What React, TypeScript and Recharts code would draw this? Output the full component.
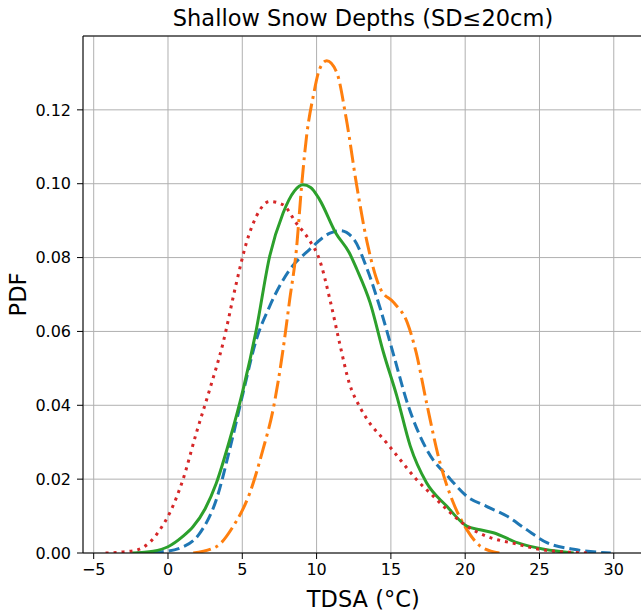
import React from "react";
import { LineChart, Line, XAxis, YAxis, CartesianGrid, ReferenceLine, Label } from "recharts";

const xTicks = [-5, 0, 5, 10, 15, 20, 25, 30];
const yTicks = [0, 0.02, 0.04, 0.06, 0.08, 0.1, 0.12];

// blue dashed
const blueX = [-2.1, -0.5, 0.79, 2.13, 3.25, 4.15, 5.05, 5.94, 6.84, 8.19, 9.5, 10.9, 11.6, 12.5, 13.4, 14.3, 15.2, 16.1, 17.4, 19.0, 20.1, 21.4, 22.8, 24.1, 25.5, 27.3, 29.8];
const blueY = [0, 0.0003, 0.0013, 0.0053, 0.0144, 0.028, 0.0433, 0.0577, 0.0668, 0.0767, 0.0821, 0.0866, 0.0873, 0.085, 0.0769, 0.066, 0.0534, 0.0407, 0.0281, 0.02, 0.0154, 0.0127, 0.01, 0.0064, 0.0028, 0.001, 0];

// orange dash-dot
const orangeX = [1.7, 3.25, 4.37, 5.5, 6.39, 7.07, 7.74, 8.19, 8.64, 9.0, 9.33, 9.78, 10.2, 10.68, 11.35, 12.0, 12.7, 13.4, 14.3, 15.2, 16.1, 16.7, 17.4, 18.3, 19.2, 20.1, 21.0, 22.3];
const orangeY = [0, 0.0017, 0.0071, 0.0162, 0.028, 0.0388, 0.055, 0.0686, 0.0821, 0.0998, 0.113, 0.1238, 0.131, 0.1333, 0.1302, 0.1175, 0.0995, 0.0841, 0.0715, 0.0678, 0.0624, 0.0543, 0.0407, 0.0245, 0.0136, 0.0064, 0.0019, 0];

// green solid
const greenX = [-2.4, -1.0, 0, 1.0, 1.68, 2.5, 3.25, 4.15, 5.05, 5.94, 6.84, 7.74, 8.5, 9.08, 9.6, 10.2, 11.3, 12.2, 12.7, 13.6, 14.5, 15.4, 16.3, 17.4, 18.75, 20.1, 21.0, 21.9, 23.5, 25.3, 27.3];
const greenY = [0, 0.0005, 0.0017, 0.0045, 0.0071, 0.012, 0.0189, 0.0306, 0.0442, 0.0604, 0.0803, 0.092, 0.098, 0.0997, 0.099, 0.0957, 0.0866, 0.0813, 0.0769, 0.0678, 0.0543, 0.0425, 0.029, 0.019, 0.0127, 0.0073, 0.0063, 0.0055, 0.0028, 0.001, 0];

// red dotted
const redX = [-4.2, -3.0, -2.1, -1.2, -0.56, 0.11, 1.0, 1.9, 2.8, 3.7, 4.6, 5.27, 5.94, 6.84, 7.74, 8.64, 9.5, 10.2, 10.9, 11.55, 12.2, 12.9, 13.4, 14.7, 15.6, 16.7, 17.85, 19.0, 20.1, 21.4, 23.5, 25.0, 27.0, 28.5];
const redY = [0, 0.0003, 0.0008, 0.003, 0.0062, 0.0108, 0.0198, 0.0324, 0.0442, 0.0568, 0.0731, 0.0839, 0.0911, 0.0952, 0.0943, 0.0893, 0.0848, 0.0794, 0.0686, 0.0568, 0.046, 0.0396, 0.0362, 0.0299, 0.0254, 0.02, 0.0154, 0.0109, 0.0073, 0.0046, 0.0024, 0.001, 0.0002, 0];

const toPoints = (xs: number[], ys: number[]) => xs.map((x, i) => ({ x, y: ys[i] }));

const series = [
  { key: "blue", data: toPoints(blueX, blueY), color: "#1f77b4", dash: "11 5" },
  { key: "orange", data: toPoints(orangeX, orangeY), color: "#ff7f0e", dash: "18 5 3 5" },
  { key: "green", data: toPoints(greenX, greenY), color: "#2ca02c", dash: undefined },
  { key: "red", data: toPoints(redX, redY), color: "#d62728", dash: "3 5" },
];

const font = "'DejaVu Sans', sans-serif";
const tickStyle = { fontSize: 16, fill: "#000", fontFamily: font };
const labelStyle = { fontSize: 22.5, fill: "#000", fontFamily: font };

// matplotlib uses a real minus sign
const fmtX = (v: number) => (v < 0 ? "\u2212" + Math.abs(v) : String(v));

export default function App() {
  return (
    <div style={{ position: "absolute", left: 0, top: 0, width: 641, height: 615, overflow: "hidden", background: "#fff" }}>
      <div
        style={{
          position: "absolute",
          left: 0,
          width: 726,
          top: 5,
          textAlign: "center",
          fontFamily: font,
          fontSize: 22.5,
          color: "#000",
        }}
      >
        Shallow Snow Depths (SD≤20cm)
      </div>
      <LineChart width={660} height={615} margin={{ top: 36, right: 16.5, bottom: 22, left: 23 }}>
        <CartesianGrid stroke="#b0b0b0" strokeWidth={1} />
        <XAxis
          type="number"
          dataKey="x"
          domain={[-5.72, 32]}
          ticks={xTicks}
          allowDataOverflow
          height={40}
          stroke="#000"
          tick={tickStyle}
          tickSize={6}
          tickMargin={5}
          tickFormatter={fmtX}
        >
          <Label value="TDSA (°C)" position="insideBottom" offset={-14} style={{ ...labelStyle }} />
        </XAxis>
        <YAxis
          type="number"
          dataKey="y"
          domain={[0, 0.14]}
          ticks={yTicks}
          allowDataOverflow
          width={60}
          stroke="#000"
          tick={tickStyle}
          tickSize={6}
          tickMargin={6}
          tickFormatter={(v: number) => v.toFixed(2)}
        >
          <Label value="PDF" angle={-90} position="insideLeft" offset={-5} style={{ ...labelStyle, textAnchor: "middle" }} />
        </YAxis>
        <ReferenceLine y={0.14} stroke="#000" strokeWidth={1} />
        {series.map(s => (
          <Line
            key={s.key}
            data={s.data}
            dataKey="y"
            type="monotone"
            stroke={s.color}
            strokeWidth={3}
            strokeDasharray={s.dash}
            dot={false}
            activeDot={false}
            isAnimationActive={false}
          />
        ))}
      </LineChart>
    </div>
  );
}
